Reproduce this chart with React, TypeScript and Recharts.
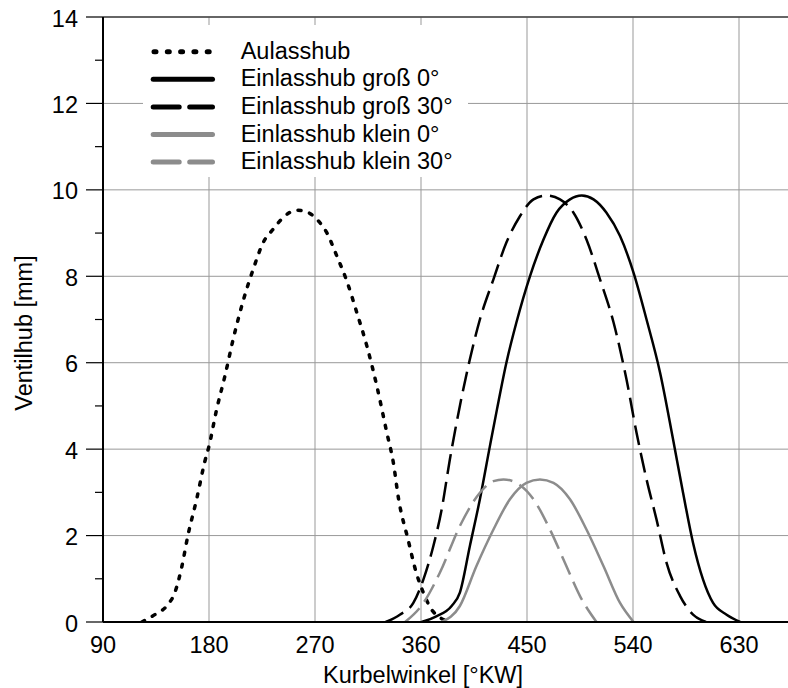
import { CartesianGrid, Legend, Line, LineChart, ReferenceLine, XAxis, YAxis } from "recharts";

// Ventilhubkurven (°KW / mm)
const auslassAngle = [123, 134, 145, 151, 157, 162, 169.5, 176.5, 180, 186.5, 193.5, 200.5, 209, 217.5, 226, 234.5, 243, 254.5, 263, 271.5, 280, 288.5, 297, 305.5, 314, 322.5, 331, 336.5, 341, 349, 356, 362, 370, 385];
const auslassLift = [0, 0.17, 0.4, 0.68, 1.29, 1.99, 2.84, 3.72, 4.07, 4.92, 5.69, 6.54, 7.43, 8.16, 8.78, 9.09, 9.36, 9.53, 9.49, 9.32, 9.01, 8.47, 7.89, 7.16, 6.39, 5.46, 4.38, 3.69, 2.84, 1.91, 1.14, 0.68, 0.25, 0];

const grossAngle0 = [360.5, 373, 386, 393, 401.5, 410, 418.5, 424.5, 432.5, 441, 452.5, 464, 475, 486.5, 496.5, 506.5, 517.5, 529, 540.5, 551.5, 563, 574, 582.5, 591, 599.5, 608, 619.5, 631];
const grossLift0 = [0, 0.13, 0.37, 0.68, 1.76, 2.84, 4.07, 4.92, 6.0, 6.93, 8.0, 8.85, 9.47, 9.78, 9.87, 9.78, 9.47, 8.93, 8.08, 7.0, 5.77, 4.23, 2.99, 1.83, 0.98, 0.44, 0.17, 0];

const grossAngle30 = [330, 342, 353.5, 362, 370.5, 377.5, 384.5, 393, 401.5, 410, 421.5, 432.5, 444, 455.5, 466.5, 478, 489.5, 500.5, 512, 523.5, 534.5, 543, 551.5, 560, 568.5, 580, 591, 602];
const grossLift30 = [0, 0.17, 0.44, 0.98, 1.76, 2.6, 3.76, 5.0, 6.08, 7.0, 7.93, 8.78, 9.39, 9.78, 9.87, 9.78, 9.47, 8.85, 7.93, 6.93, 5.61, 4.38, 3.3, 2.37, 1.37, 0.6, 0.17, 0];

const kleinAngle0 = [377.5, 393, 407, 421.5, 435.5, 449.5, 461, 472.5, 486.5, 500.5, 515, 529, 540.5];
const kleinLift0 = [0, 0.37, 1.29, 2.14, 2.84, 3.22, 3.3, 3.22, 2.84, 2.14, 1.29, 0.44, 0];

const kleinAngle30 = [346.5, 362, 376, 393, 410, 421.5, 430, 441, 455.5, 469.5, 483.5, 495, 509];
const kleinLift30 = [0, 0.44, 1.14, 2.22, 2.99, 3.26, 3.3, 3.22, 2.84, 2.14, 1.29, 0.6, 0];

const xTicks = [90, 180, 270, 360, 450, 540, 630];
const yTicks = [0, 1, 2, 3, 4, 5, 6, 7, 8, 9, 10, 11, 12, 13, 14];
const yGridTicks = [0, 2, 4, 6, 8, 10, 12, 14];

const FONT = "'Liberation Sans', Arial, Helvetica, sans-serif";
const FONT_SIZE = 23.5;
const BLACK = "#000000";
const GREY = "#8c8c8c";

function toPoints(xs: number[], ys: number[]) {
  return xs.map((x, i) => ({ x, y: ys[i] }));
}

type Series = {
  name: string;
  data: { x: number; y: number }[];
  stroke: string;
  width: number;
  dash?: string;
  cap: "round" | "butt";
  legendDash?: string;
};

const series: Series[] = [
  { name: "Aulasshub", data: toPoints(auslassAngle, auslassLift), stroke: BLACK, width: 3.5, dash: "3 9", cap: "round", legendDash: "2 11.3" },
  { name: "Einlasshub groß 0°", data: toPoints(grossAngle0, grossLift0), stroke: BLACK, width: 2.5, cap: "butt" },
  { name: "Einlasshub groß 30°", data: toPoints(grossAngle30, grossLift30), stroke: BLACK, width: 2.5, dash: "20 8", cap: "butt", legendDash: "26 10.5" },
  { name: "Einlasshub klein 0°", data: toPoints(kleinAngle0, kleinLift0), stroke: GREY, width: 2.5, cap: "butt" },
  { name: "Einlasshub klein 30°", data: toPoints(kleinAngle30, kleinLift30), stroke: GREY, width: 2.5, dash: "20 8", cap: "butt", legendDash: "26 10.5" },
];

function LegendBox() {
  return (
    <svg width={325} height={152} style={{ display: "block", background: "#fff" }}>
      {series.map((s, i) => {
        const cy = 26.7 + i * 27.6;
        return (
          <g key={s.name}>
            <line
              x1={s.legendDash === "2 11.3" ? 11 : 10.2}
              x2={69.5}
              y1={cy}
              y2={cy}
              stroke={s.stroke}
              strokeWidth={5}
              strokeLinecap="round"
              strokeDasharray={s.legendDash}
            />
            <text x={97.7} y={cy + 7} fontSize={FONT_SIZE} fontFamily={FONT} fill="#000">
              {s.name}
            </text>
          </g>
        );
      })}
    </svg>
  );
}

function YTick({ x, y, payload }: any) {
  const even = payload.value % 2 === 0;
  return (
    <g>
      <line x1={x - (even ? 17 : 8)} x2={x} y1={y} y2={y} stroke="#000" strokeWidth={1.2} />
      {even && (
        <text x={x - 25} y={y + 9.5} textAnchor="end" fontSize={FONT_SIZE} fontFamily={FONT} fill="#000">
          {payload.value}
        </text>
      )}
    </g>
  );
}

function XTick({ x, y, payload }: any) {
  return (
    <text x={x} y={y + 31} textAnchor="middle" fontSize={FONT_SIZE} fontFamily={FONT} fill="#000">
      {payload.value}
    </text>
  );
}

function XTitle() {
  return (
    <text x={423} y={683} textAnchor="middle" fontSize={FONT_SIZE} fontFamily={FONT} fill="#000">
      Kurbelwinkel [°KW]
    </text>
  );
}

function YTitle() {
  return (
    <text x={32.3} y={333} transform="rotate(-90, 32.3, 333)" textAnchor="middle" fontSize={FONT_SIZE} fontFamily={FONT} fill="#000">
      Ventilhub [mm]
    </text>
  );
}

export default function App() {
  return (
    <div style={{ position: "absolute", left: 0, top: 0, width: 788, height: 688, overflow: "hidden", background: "#fff" }}>
      <LineChart width={900} height={688} margin={{ top: 17, right: 55, bottom: 0, left: 0 }}>
        <CartesianGrid yAxisId="grid" stroke="#999" strokeWidth={1} />
        <XAxis
          dataKey="x"
          type="number"
          domain={[90, 720]}
          ticks={xTicks}
          interval={0}
          allowDataOverflow
          height={66}
          tickLine={false}
          tickSize={0}
          tickMargin={0}
          tick={<XTick />}
          axisLine={{ stroke: "#000", strokeWidth: 2 }}
          label={<XTitle />}
        />
        <YAxis
          yAxisId="main"
          type="number"
          domain={[0, 14]}
          ticks={yTicks}
          interval={0}
          allowDataOverflow
          width={103}
          tickLine={false}
          tickSize={0}
          tickMargin={0}
          tick={<YTick />}
          axisLine={{ stroke: "#000", strokeWidth: 2 }}
          label={<YTitle />}
        />
        <YAxis yAxisId="grid" hide width={0} type="number" domain={[0, 14]} ticks={yGridTicks} allowDataOverflow />
        <ReferenceLine yAxisId="main" y={14} stroke="#444" strokeWidth={1.5} />
        {series.map((s) => (
          <Line
            key={s.name}
            yAxisId="main"
            data={s.data}
            dataKey="y"
            name={s.name}
            type="monotone"
            stroke={s.stroke}
            strokeWidth={s.width}
            strokeDasharray={s.dash}
            strokeLinecap={s.cap}
            dot={false}
            activeDot={false}
            isAnimationActive={false}
          />
        ))}
        <Legend
          layout="vertical"
          align="center"
          verticalAlign="middle"
          content={<LegendBox />}
          wrapperStyle={{ position: "absolute", left: 143, top: 25, width: 325, height: 152 }}
        />
      </LineChart>
    </div>
  );
}
